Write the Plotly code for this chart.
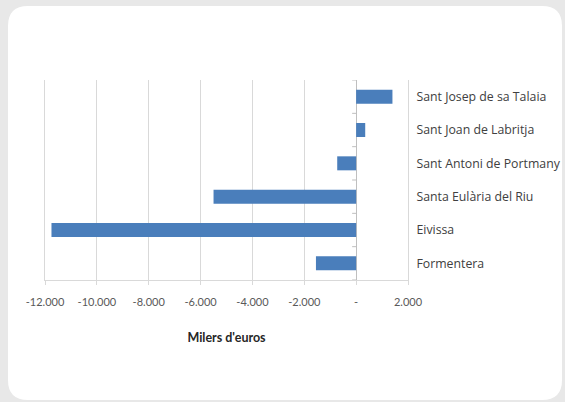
import plotly.graph_objects as go

categories = ["Formentera", "Eivissa", "Santa Eulària del Riu",
              "Sant Antoni de Portmany", "Sant Joan de Labritja", "Sant Josep de sa Talaia"]
values = [-1550, -11750, -5500, -730, 350, 1400]
tick_vals = [-12000, -10000, -8000, -6000, -4000, -2000, 0, 2000]
tick_text = ["-12.000", "-10.000", "-8.000", "-6.000", "-4.000", "-2.000", "-", "2.000"]

W, H = 565, 402
L, R, T, B = 45, 157, 80, 122
pw, ph = W - L - R, H - T - B

def px(x):
    return (x - L) / pw

def py(y):
    return (H - B - y) / ph

fig = go.Figure(go.Bar(
    x=values, y=categories, orientation="h",
    marker=dict(color="#4a7ebb", line=dict(width=0)),
))

# rounded white card
x0, x1, y0, y1, r = 8, 562, 6, 400, 20
path = (f"M {px(x0+r)} {py(y0)} L {px(x1-r)} {py(y0)} Q {px(x1)} {py(y0)} {px(x1)} {py(y0+r)} "
        f"L {px(x1)} {py(y1-r)} Q {px(x1)} {py(y1)} {px(x1-r)} {py(y1)} "
        f"L {px(x0+r)} {py(y1)} Q {px(x0)} {py(y1)} {px(x0)} {py(y1-r)} "
        f"L {px(x0)} {py(y0+r)} Q {px(x0)} {py(y0)} {px(x0+r)} {py(y0)} Z")
shapes = [dict(type="path", path=path, xref="paper", yref="paper",
               fillcolor="white", line=dict(width=0), layer="below")]

# category tick marks on zero line
for i in range(len(categories) + 1):
    shapes.append(dict(type="line", xref="x", yref="y", xsizemode="pixel", xanchor=0,
                       x0=-4, x1=0, y0=i - 0.5, y1=i - 0.5,
                       line=dict(color="#bfbfbf", width=1)))

fig.update_layout(
    width=W, height=H,
    autosize=False,
    margin=dict(l=L, r=R, t=T, b=B, pad=0),
    paper_bgcolor="#e8e8e8",
    plot_bgcolor="white",
    showlegend=False,
    bargap=0.58,
    shapes=shapes,
    font=dict(family="Lato", color="#404040"),
    xaxis=dict(
        range=[-12000, 2000], tickvals=tick_vals, ticktext=tick_text,
        automargin=True,
        showgrid=True, gridcolor="#d9d9d9", gridwidth=1,
        ticks="outside", ticklen=4, tickcolor="#d9d9d9",
        ticklabelstandoff=8,
        zeroline=True, zerolinecolor="#bfbfbf", zerolinewidth=1,
        showline=True, linecolor="#d9d9d9", linewidth=1,
        tickfont=dict(size=11, color="#595959", family="Lato"),
        title=dict(text="<b>Milers d'euros</b>", font=dict(size=12.5, color="#262626", family="Lato"),
                   standoff=26),
        fixedrange=True,
    ),
    yaxis=dict(
        side="right", showgrid=False, ticks="",
        showline=True, mirror=True, linecolor="#d9d9d9", linewidth=1,
        automargin=False,
        tickfont=dict(size=12.3, color="#404040", family="Open Sans"),
        ticklabelstandoff=5,
        range=[-0.5, 5.5],
        fixedrange=True,
    ),
)

fig.write_html(
    "out.html",
    config={"responsive": False, "displayModeBar": False},
    default_width="565px", default_height="402px",
    post_script=("document.documentElement.style.overflow='hidden';"
                 "document.body.style.overflow='hidden';"
                 "document.body.style.margin='0';"
                 "document.body.style.background='#e8e8e8';"),
)
